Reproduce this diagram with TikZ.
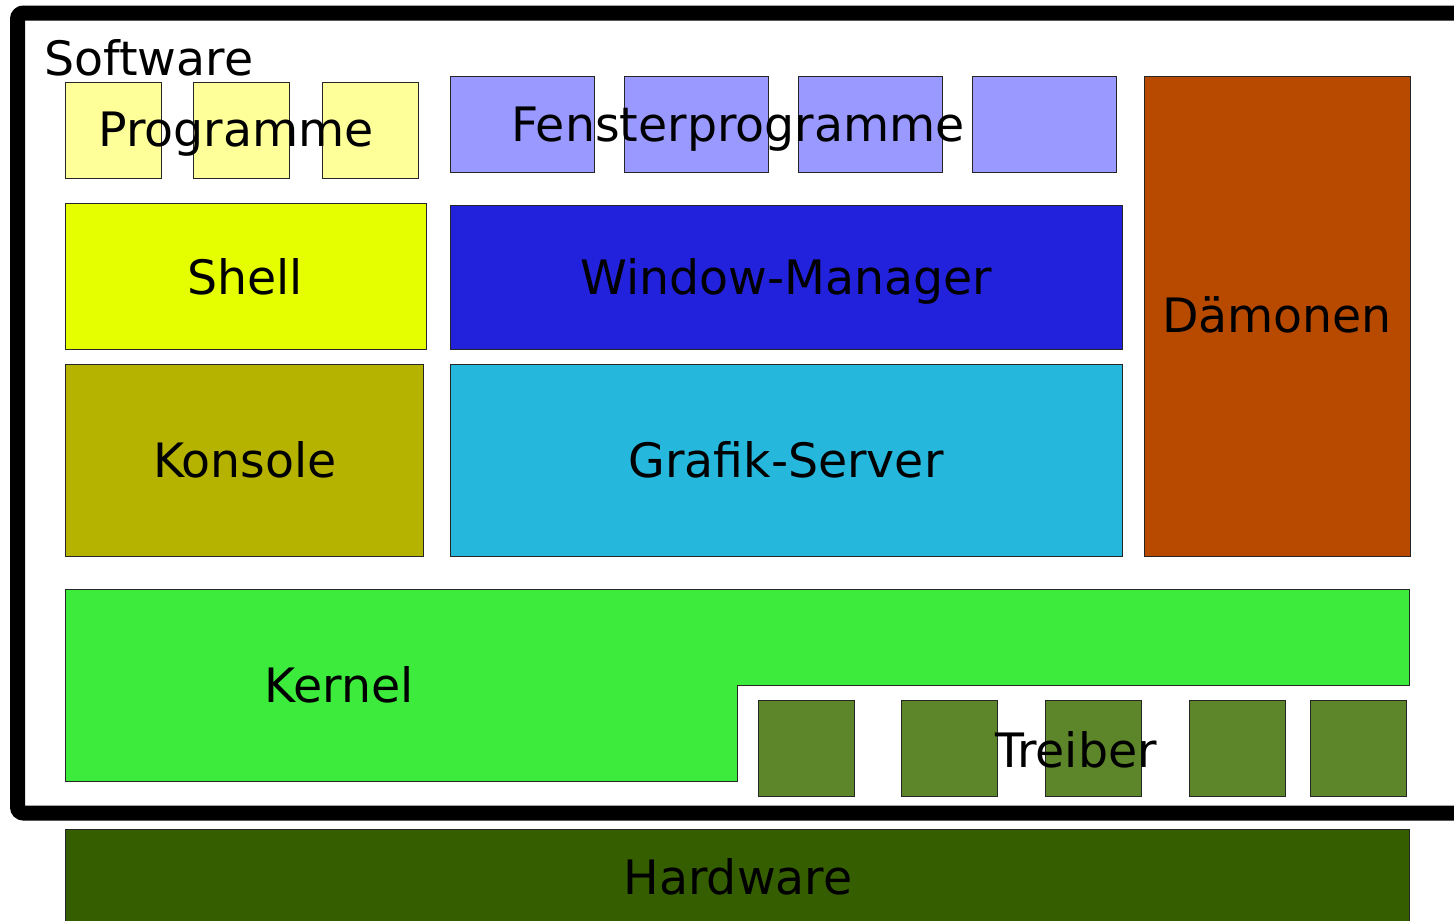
\documentclass[tikz,border=0pt]{standalone}
\usepackage{fontspec}
\setmainfont{DejaVu Sans}
\definecolor{progc}{HTML}{FFFF99}
\definecolor{fenc}{HTML}{9999FF}
\definecolor{daemc}{HTML}{B84A00}
\definecolor{shellc}{HTML}{E5FF00}
\definecolor{wmc}{HTML}{2222DD}
\definecolor{konc}{HTML}{B5B300}
\definecolor{grafc}{HTML}{26B7DD}
\definecolor{kernc}{HTML}{3DEB3D}
\definecolor{treic}{HTML}{5D8529}
\definecolor{hwc}{HTML}{355E00}
\begin{document}
\begin{tikzpicture}[x=1pt,y=-1pt,
  blk/.style={draw=black!85,line width=1pt},
  lbl/.style={anchor=base,inner sep=0pt,font=\fontsize{47.4}{52}\selectfont}]
\useasboundingbox (0,0) rectangle (1454,921);
\clip (0,0) rectangle (1454,921);
% outer frame
\draw[line width=15pt,rounded corners=6pt] (17.5,13) rectangle (1480,813);
% Programme
\foreach \x in {65,193.5,322}
  \draw[blk,fill=progc] (\x,82) rectangle (\x+96,178);
% Fensterprogramme
\foreach \x in {450,624,798,972}
  \draw[blk,fill=fenc] (\x,76) rectangle (\x+144,172);
% Daemonen
\draw[blk,fill=daemc] (1144,76) rectangle (1410,556);
% Shell, WM, Konsole, Grafik
\draw[blk,fill=shellc] (65,203) rectangle (426,349);
\draw[blk,fill=wmc] (450,205) rectangle (1122,349);
\draw[blk,fill=konc] (65,364) rectangle (423,556);
\draw[blk,fill=grafc] (450,364) rectangle (1122,556);
% Kernel
\draw[blk,fill=kernc] (65,589) -- (1409,589) -- (1409,685) -- (737,685) -- (737,781) -- (65,781) -- cycle;
% Treiber
\foreach \x in {758,901,1045,1189,1310}
  \draw[blk,fill=treic] (\x,700) rectangle (\x+96,796);
% Hardware
\draw[blk,fill=hwc] (65,829) rectangle (1409,940);
% labels
\node[lbl,anchor=base west] (sw) at (44,75) {Software};
\node[lbl] (prog) at (236,146) {Programme};
\node[lbl] (fen) at (738,141) {Fensterprogramme};
\node[lbl] (daem) at (1277,332) {Dämonen};
\node[lbl] (shell) at (245,294) {Shell};
\node[lbl] (wm) at (786,294) {Window-Manager};
\node[lbl] (kon) at (245,477) {Konsole};
\node[lbl] (graf) at (786,477) {Grafik-Server};
\node[lbl] (kern) at (339,702) {Kernel};
\node[lbl] (trei) at (1076,767) {Treiber};
\node[lbl] (hw) at (738,894) {Hardware};
\end{tikzpicture}
\end{document}
